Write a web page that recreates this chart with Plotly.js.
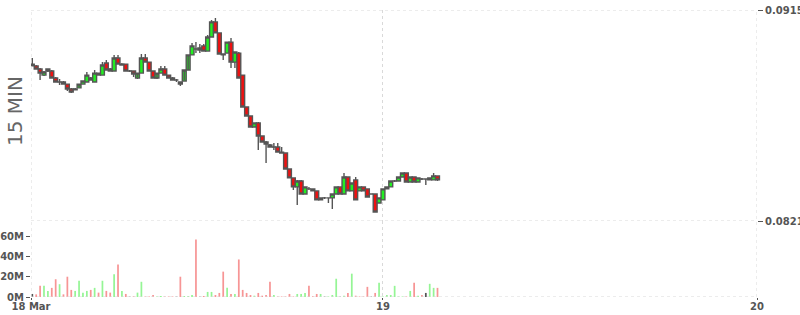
<!DOCTYPE html>
<html>
<head>
<meta charset="utf-8">
<script src="https://cdn.plot.ly/plotly-3.0.1.min.js"></script>
<style>html,body{margin:0;padding:0;background:#fff;}#chart{width:800px;height:315px;}</style>
</head>
<body>
<div id="chart"></div>
<script>
// 15-minute candles, first candle 18 Mar 01:30
const firstCandle = '2024-03-18T01:30:00Z';
const openP  = [0.08909,0.08901,0.08887,0.08860,0.08878,0.08878,0.08847,0.08829,0.08829,0.08820,
                0.08798,0.08794,0.08803,0.08820,0.08829,0.08847,0.08829,0.08869,0.08860,0.08914,
                0.08887,0.08878,0.08936,0.08909,0.08909,0.08878,0.08878,0.08847,0.08869,0.08936,
                0.08918,0.08878,0.08847,0.08869,0.08887,0.08860,0.08847,0.08838,0.08820,0.08834,
                0.08883,0.08950,0.08976,0.08972,0.08990,0.08967,0.09030,0.09097,0.09048,0.08954,
                0.08958,0.09007,0.08918,0.08958,0.08860,0.08718,0.08678,0.08629,0.08647,0.08589,
                0.08562,0.08549,0.08540,0.08540,0.08517,0.08513,0.08442,0.08402,0.08362,0.08388,
                0.08330,0.08353,0.08353,0.08344,0.08304,0.08313,0.08313,0.08313,0.08330,0.08362,
                0.08330,0.08406,0.08344,0.08393,0.08344,0.08362,0.08353,0.08330,0.08330,0.08290,
                0.08304,0.08353,0.08362,0.08388,0.08388,0.08406,0.08424,0.08384,0.08406,0.08384,
                0.08397,0.08397,0.08393,0.08393,0.08411];
const highP  = [0.08936,0.08905,0.08892,0.08878,0.08887,0.08883,0.08852,0.08843,0.08834,0.08820,
                0.08803,0.08803,0.08807,0.08834,0.08874,0.08852,0.08883,0.08869,0.08918,0.08927,
                0.08892,0.08950,0.08950,0.08914,0.08909,0.08883,0.08878,0.08852,0.08954,0.08954,
                0.08918,0.08878,0.08847,0.08901,0.08901,0.08860,0.08852,0.08843,0.08829,0.08838,
                0.08883,0.09003,0.09007,0.08999,0.08999,0.09039,0.09106,0.09114,0.09048,0.08954,
                0.09007,0.09025,0.08963,0.08963,0.08860,0.08718,0.08678,0.08647,0.08651,0.08589,
                0.08566,0.08553,0.08558,0.08558,0.08540,0.08513,0.08442,0.08402,0.08393,0.08393,
                0.08362,0.08362,0.08353,0.08344,0.08313,0.08317,0.08313,0.08330,0.08362,0.08362,
                0.08424,0.08406,0.08379,0.08406,0.08362,0.08362,0.08353,0.08330,0.08330,0.08313,
                0.08353,0.08362,0.08388,0.08393,0.08406,0.08424,0.08424,0.08406,0.08406,0.08402,
                0.08402,0.08397,0.08402,0.08424,0.08411];
const lowP   = [0.08901,0.08887,0.08838,0.08856,0.08874,0.08847,0.08829,0.08816,0.08820,0.08789,
                0.08780,0.08794,0.08803,0.08820,0.08829,0.08838,0.08829,0.08860,0.08860,0.08883,
                0.08878,0.08878,0.08909,0.08905,0.08878,0.08874,0.08852,0.08843,0.08869,0.08918,
                0.08878,0.08847,0.08843,0.08869,0.08860,0.08847,0.08838,0.08829,0.08811,0.08834,
                0.08883,0.08950,0.08958,0.08958,0.08967,0.08967,0.09030,0.09048,0.08954,0.08927,
                0.08958,0.08892,0.08892,0.08847,0.08718,0.08678,0.08629,0.08629,0.08526,0.08562,
                0.08468,0.08540,0.08526,0.08517,0.08513,0.08442,0.08402,0.08348,0.08281,0.08330,
                0.08330,0.08348,0.08344,0.08304,0.08304,0.08308,0.08290,0.08264,0.08330,0.08330,
                0.08330,0.08344,0.08344,0.08304,0.08344,0.08344,0.08317,0.08330,0.08250,0.08290,
                0.08304,0.08353,0.08362,0.08384,0.08388,0.08406,0.08384,0.08384,0.08384,0.08384,
                0.08393,0.08370,0.08393,0.08393,0.08388];
const closeP = [0.08901,0.08887,0.08869,0.08874,0.08887,0.08847,0.08829,0.08829,0.08820,0.08798,
                0.08785,0.08798,0.08820,0.08834,0.08860,0.08838,0.08869,0.08860,0.08905,0.08883,
                0.08878,0.08936,0.08909,0.08905,0.08878,0.08878,0.08865,0.08869,0.08936,0.08918,
                0.08878,0.08847,0.08869,0.08887,0.08860,0.08847,0.08838,0.08838,0.08829,0.08883,
                0.08950,0.08990,0.08976,0.08981,0.08967,0.09030,0.09097,0.09048,0.08954,0.08950,
                0.09007,0.08918,0.08963,0.08847,0.08718,0.08678,0.08629,0.08647,0.08589,0.08562,
                0.08553,0.08540,0.08540,0.08517,0.08513,0.08442,0.08402,0.08362,0.08388,0.08330,
                0.08362,0.08353,0.08344,0.08304,0.08313,0.08313,0.08313,0.08330,0.08362,0.08330,
                0.08406,0.08344,0.08379,0.08304,0.08362,0.08344,0.08317,0.08330,0.08250,0.08313,
                0.08353,0.08362,0.08388,0.08388,0.08406,0.08424,0.08384,0.08406,0.08384,0.08402,
                0.08397,0.08397,0.08402,0.08411,0.08393];
// volume in millions
const volumeM = [3,2.6,11,11,6,9,17.5,12.6,2.6,20,
                 7,6,16,4.3,6,7,9,4.3,16,6,
                 4.3,22.5,32,6,3,0.3,0.7,4.3,15,0.5,
                 0.5,2,0.5,1,0.5,0.5,0.5,0.3,20,1,
                 1,2,56.6,0.3,1,5,5,2,4,25,
                 9,3,3,37,7,4,2,1.3,4,1.3,
                 2,15,2,0.5,0.5,0.5,3,0.5,3,3,
                 4,11,0.7,3,3,0.3,0.5,2,18,0.3,
                 1.3,4,23,1.3,0.5,0.5,10,0.3,4,14,
                 0.5,2,2,11,0.5,0.5,0.5,6,14,1.3,
                 2,4,13,9,9];
// u = up, d = down, n = unchanged
const volumeDir = ['n','d','d','u','u','d','d','u','d','d',
                   'd','u','u','u','u','d','u','d','u','d',
                   'd','u','d','u','d','n','d','u','u','d',
                   'd','d','u','u','d','d','d','n','d','u',
                   'u','u','d','n','d','u','u','d','d','d',
                   'u','d','u','d','d','d','d','u','d','d',
                   'd','d','u','d','d','d','d','d','u','u',
                   'u','d','d','d','u','n','u','u','u','n',
                   'u','d','u','d','d','d','d','n','d','u',
                   'u','u','u','u','u','u','d','u','d','u',
                   'd','n','u','u','d'];
const tickDates = ['2024-03-18 01:25','2024-03-19 00:00','2024-03-20 00:00'];
const tickText = ['18 Mar','19','20'];
const priceTicks = [0.0821, 0.0915];
const priceTickText = ['0.0821','0.0915'];
const volTicks = [0, 20e6, 40e6, 60e6];
const volTickText = ['0M','20M','40M','60M'];

const t0 = Date.parse(firstCandle);
const times = openP.map((_, i) => new Date(t0 + i * 900000).toISOString().replace('T',' ').slice(0,16));
const volColors = {u:'#95f595', d:'#f79595', n:'#555555'};

const tickFont = {family:'DejaVu Sans', size:10, color:'#555', weight:'bold'};
const gridColor = '#d9d9d9';
const gridStyle = {showgrid:true, gridcolor:gridColor, griddash:'3px,3px', gridwidth:1};
const dashLine = {color:gridColor, width:1, dash:'3px,3px'};

const candles = {
  type:'candlestick', x:times, open:openP, high:highP, low:lowP, close:closeP,
  xaxis:'x', yaxis:'y',
  increasing:{fillcolor:'#22ee22', line:{color:'#555', width:1.4}},
  decreasing:{fillcolor:'#ee1111', line:{color:'#555', width:1.4}},
  whiskerwidth:0, hoverinfo:'skip', showlegend:false
};
const vols = {
  type:'bar', x:times, y:volumeM.map(v => v * 1e6),
  marker:{color:volumeDir.map(d => volColors[d]), line:{width:0}},
  width:400000, xaxis:'x', yaxis:'y2', hoverinfo:'skip', showlegend:false
};

// dashed frame lines that sit on the plot edges (Plotly skips edge gridlines)
const shapes = [
  {type:'line', xref:'paper', x0:0, x1:1, yref:'y2', y0:volTicks[0], y1:volTicks[0], line:dashLine},
  {type:'line', xref:'paper', x0:0, x1:1, yref:'y', y0:priceTicks[0], y1:priceTicks[0], line:dashLine},
  {type:'line', xref:'paper', x0:0, x1:1, yref:'y', y0:priceTicks[1], y1:priceTicks[1], line:dashLine},
  {type:'line', xref:'x', x0:tickDates[0], x1:tickDates[0], yref:'paper', y0:0, y1:1, line:dashLine},
  {type:'line', xref:'x', x0:tickDates[2], x1:tickDates[2], yref:'paper', y0:0, y1:1, line:dashLine}
];

const layout = {
  width:800, height:315,
  margin:{l:31, r:43, t:10, b:18, pad:0},
  paper_bgcolor:'#fff', plot_bgcolor:'#fff',
  boxgap:0.0, boxgroupgap:0.0,
  showlegend:false,
  xaxis:Object.assign({
    type:'date', anchor:'y2', domain:[0,1],
    range:['2024-03-18 01:25','2024-03-20 00:00'],
    tickmode:'array', tickvals:tickDates, ticktext:tickText,
    ticks:'outside', ticklen:2, tickcolor:'#555', tickfont:tickFont,
    ticklabelstandoff:-2,
    showline:false, zeroline:false, rangeslider:{visible:false}, fixedrange:true
  }, gridStyle),
  yaxis:Object.assign({
    domain:[0.2648,1], side:'right', anchor:'x',
    range:[0.0821,0.0915], tickmode:'array', tickvals:priceTicks, ticktext:priceTickText,
    ticks:'outside', ticklen:5, tickcolor:'#555', tickfont:tickFont,
    showline:false, zeroline:false
  }, gridStyle),
  yaxis2:{
    domain:[0,0.2648], side:'left', anchor:'x',
    range:[0,74.9e6], tickmode:'array', tickvals:volTicks, ticktext:volTickText,
    ticks:'outside', ticklen:4, tickcolor:'#555', tickfont:tickFont,
    showgrid:false, showline:false, zeroline:false
  },
  shapes:shapes,
  annotations:[{text:'15 MIN', xref:'paper', yref:'paper', x:0, xshift:-16, y:0.648,
                xanchor:'center', yanchor:'middle', textangle:-90, showarrow:false,
                font:{family:'DejaVu Sans', size:20, color:'#666'}}]
};

Plotly.newPlot('chart', [vols, candles], layout, {staticPlot:true, displayModeBar:false});
</script>
</body>
</html>
